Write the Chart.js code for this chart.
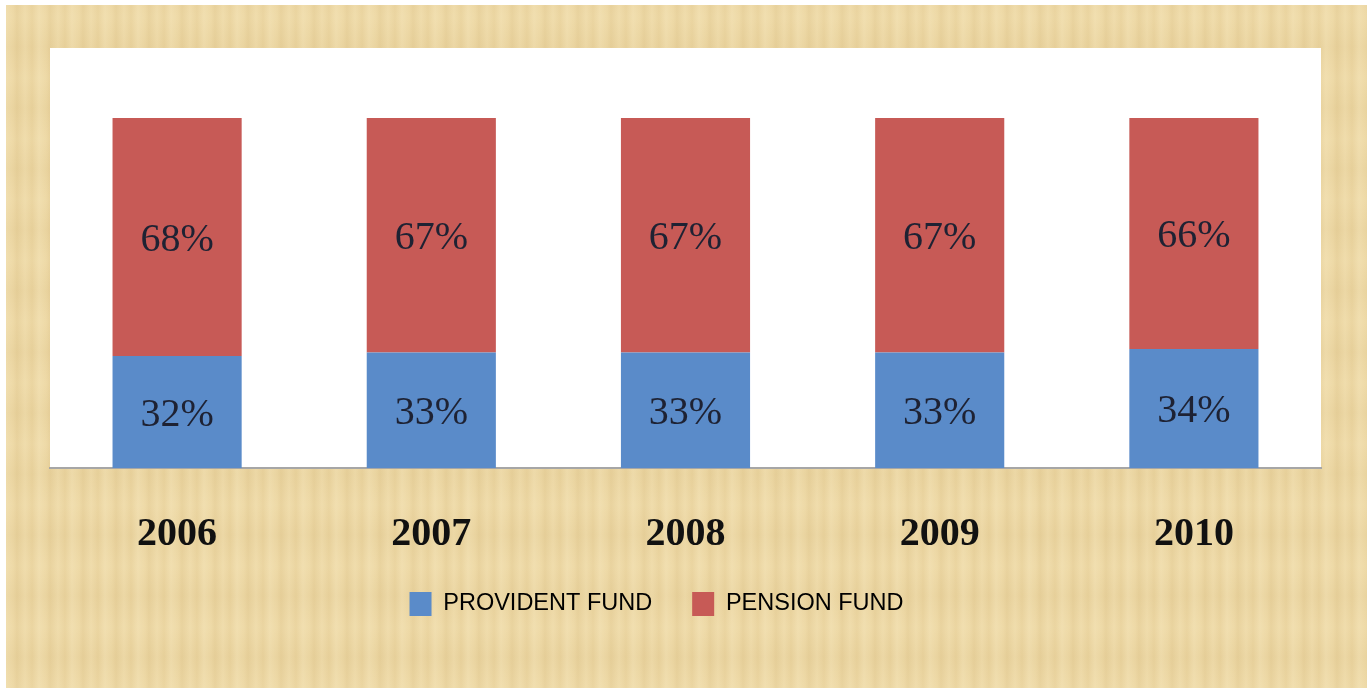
<!DOCTYPE html>
<html>
<head>
<meta charset="utf-8">
<script src="https://cdn.jsdelivr.net/npm/chart.js@4.4.1/dist/chart.umd.min.js"></script>
<style>
  html, body { margin: 0; padding: 0; background: #ffffff; }
  #paper {
    position: absolute; left: 6px; top: 5px; width: 1361px; height: 683px;
    background-color: #ebd5a0;
    background-image:
      repeating-linear-gradient(90deg, rgba(255,246,215,0.22) 0px, rgba(255,246,215,0.05) 7px, rgba(195,165,105,0.10) 11px, rgba(255,246,215,0.15) 19px, rgba(200,170,110,0.07) 26px, rgba(255,246,215,0.22) 33px),
      repeating-linear-gradient(0deg, rgba(255,240,200,0.12) 0px, rgba(200,170,110,0.07) 31px, rgba(255,240,200,0.12) 61px);
  }
  #wrap { position: absolute; left: 0; top: 0; width: 1367px; height: 688px; }
</style>
</head>
<body>
<div id="paper"></div>
<div id="wrap"><canvas id="c" width="1367" height="688"></canvas></div>
<script>
const categories = ['2006', '2007', '2008', '2009', '2010'];
const providentFund = [32, 33, 33, 33, 34];
const pensionFund = [68, 67, 67, 67, 66];
const seriesNames = ['PROVIDENT FUND', 'PENSION FUND'];
const yMax = 120;

const plotBg = {
  id: 'plotBg',
  beforeDraw(chart) {
    const {ctx, chartArea: a} = chart;
    ctx.save();
    ctx.fillStyle = '#ffffff';
    ctx.fillRect(a.left, a.top, a.right - a.left, a.bottom - a.top);
    ctx.restore();
  }
};

const legendShift = {
  id: 'legendShift',
  afterLayout(chart) {
    const lg = chart.legend;
    if (lg) { lg.left -= 29; lg.right -= 29; }
  }
};

const valueLabels = {
  id: 'valueLabels',
  afterDatasetsDraw(chart) {
    const {ctx} = chart;
    ctx.save();
    ctx.font = '40px "Liberation Serif", "Times New Roman", serif';
    ctx.fillStyle = '#1e2233';
    ctx.textAlign = 'center';
    ctx.textBaseline = 'middle';
    chart.data.datasets.forEach((ds, di) => {
      const meta = chart.getDatasetMeta(di);
      meta.data.forEach((bar, i) => {
        const p = bar.getProps(['x', 'y', 'base'], true);
        ctx.fillText(ds.data[i] + '%', p.x, (p.y + p.base) / 2 + 3);
      });
    });
    ctx.restore();
  }
};

new Chart(document.getElementById('c'), {
  type: 'bar',
  data: {
    labels: categories,
    datasets: [
      { label: seriesNames[0], data: providentFund, backgroundColor: '#5a8bc9', borderWidth: 0 },
      { label: seriesNames[1], data: pensionFund, backgroundColor: '#c75a56', borderWidth: 0 }
    ]
  },
  options: {
    responsive: false,
    animation: false,
    layout: { padding: { left: 50, right: 46, top: 48, bottom: 62 } },
    datasets: { bar: { barPercentage: 0.508, categoryPercentage: 1.0 } },
    scales: {
      x: {
        stacked: true,
        afterFit(scale) { scale.height = 84; },
        grid: { display: false, drawTicks: false },
        border: { display: true, color: '#a6a6a6', width: 2 },
        ticks: {
          padding: 47,
          color: '#111111',
          font: { family: '"Liberation Serif", "Times New Roman", serif', size: 40, weight: 'bold', lineHeight: 1.0 }
        }
      },
      y: { stacked: true, display: false, min: 0, max: yMax }
    },
    plugins: {
      tooltip: { enabled: false },
      legend: {
        position: 'bottom',
        labels: {
          boxWidth: 22,
          boxHeight: 24,
          padding: 40,
          color: '#000000',
          font: { family: '"Liberation Sans", Arial, sans-serif', size: 23.5 }
        }
      }
    }
  },
  plugins: [plotBg, legendShift, valueLabels]
});
</script>
</body>
</html>
